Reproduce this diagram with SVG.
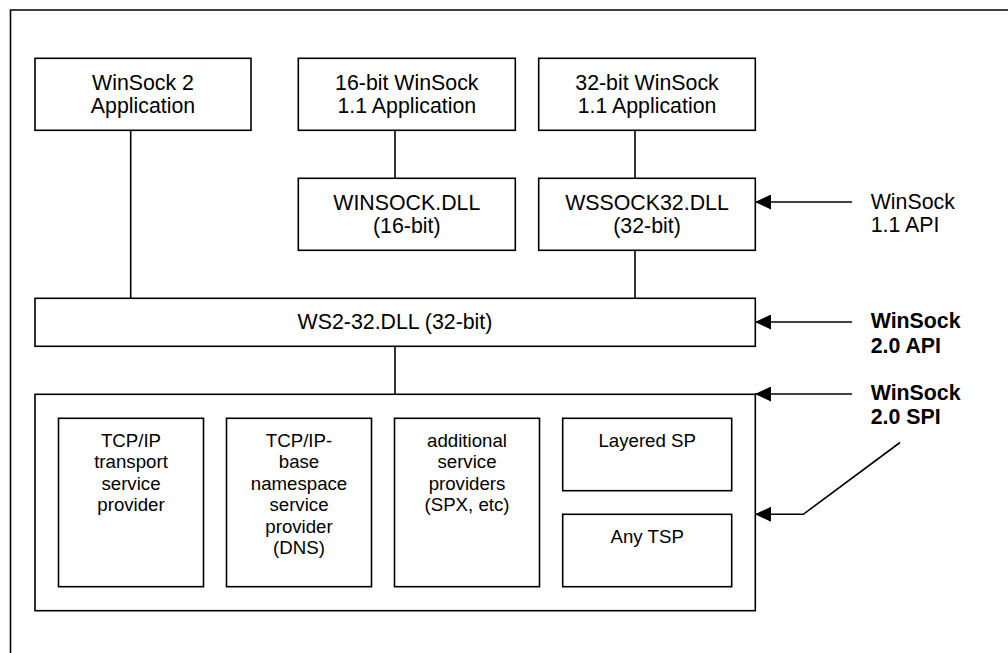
<svg xmlns="http://www.w3.org/2000/svg" width="1008" height="653" viewBox="0 0 1008 653">
  <style>
    .box { fill: #ffffff; stroke: #000000; stroke-width: 1.6; }
    .ln { fill: none; stroke: #000000; stroke-width: 1.6; }
    .t { font-family: "Liberation Sans", Arial, sans-serif; font-size: 21.33px; fill: #000000; text-anchor: middle; }
    .s { font-family: "Liberation Sans", Arial, sans-serif; font-size: 18.67px; fill: #000000; text-anchor: middle; }
    .lbl { font-family: "Liberation Sans", Arial, sans-serif; font-size: 21.33px; fill: #000000; }
    .b { font-weight: bold; }
  </style>
  <defs>
    <marker id="ah" markerUnits="userSpaceOnUse" markerWidth="16" markerHeight="15" viewBox="0 0 16 15" refX="16" refY="7.5" orient="auto">
      <path d="M0,0 L16,7.5 L0,15 z" fill="#000000"/>
    </marker>
  </defs>
  <rect x="0" y="0" width="1008" height="653" fill="#ffffff"/>
  <path class="ln" d="M10.5,653 V10 H1008"/>

  <g id="connectors">
    <line class="ln" x1="130.7" y1="130" x2="130.7" y2="298"/>
    <line class="ln" x1="395" y1="130" x2="395" y2="178"/>
    <line class="ln" x1="635" y1="130" x2="635" y2="178"/>
    <line class="ln" x1="635" y1="250" x2="635" y2="298"/>
    <line class="ln" x1="395" y1="346" x2="395" y2="394"/>
    <line class="ln" x1="852" y1="202" x2="755" y2="202" marker-end="url(#ah)"/>
    <line class="ln" x1="852" y1="322" x2="755" y2="322" marker-end="url(#ah)"/>
    <line class="ln" x1="852" y1="394" x2="755" y2="394" marker-end="url(#ah)"/>
    <polyline class="ln" points="900,442.5 803.3,514.3 755,514.3" marker-end="url(#ah)"/>
  </g>

  <g id="ws2app">
    <rect class="box" x="35" y="58.3" width="216" height="72"/>
    <text class="t" x="143" y="89.5">WinSock 2</text>
    <text class="t" x="143" y="112.5">Application</text>
  </g>
  <g id="app16">
    <rect class="box" x="298.3" y="58.3" width="217" height="72"/>
    <text class="t" x="406.8" y="89.5">16-bit WinSock</text>
    <text class="t" x="406.8" y="112.5">1.1 Application</text>
  </g>
  <g id="app32">
    <rect class="box" x="538.7" y="58.3" width="216.6" height="72"/>
    <text class="t" x="647" y="89.5">32-bit WinSock</text>
    <text class="t" x="647" y="112.5">1.1 Application</text>
  </g>
  <g id="winsockdll">
    <rect class="box" x="298.3" y="178.3" width="217" height="72"/>
    <text class="t" x="406.8" y="209.5">WINSOCK.DLL</text>
    <text class="t" x="406.8" y="232.7">(16-bit)</text>
  </g>
  <g id="wsock32dll">
    <rect class="box" x="538.7" y="178.3" width="216.6" height="72"/>
    <text class="t" x="647" y="209.5">WSSOCK32.DLL</text>
    <text class="t" x="647" y="232.7">(32-bit)</text>
  </g>
  <g id="ws2dll">
    <rect class="box" x="35" y="298.3" width="720.3" height="48"/>
    <text class="t" x="395" y="328.5">WS2-32.DLL (32-bit)</text>
  </g>

  <g id="spcontainer">
    <rect class="box" x="35" y="394.3" width="720.3" height="216.4"/>
  </g>
  <g id="tcpip">
    <rect class="box" x="58.5" y="418.3" width="145" height="168.4"/>
    <text class="s" x="131" y="446.7">TCP/IP</text>
    <text class="s" x="131" y="468.2">transport</text>
    <text class="s" x="131" y="489.7">service</text>
    <text class="s" x="131" y="511.2">provider</text>
  </g>
  <g id="dns">
    <rect class="box" x="226.5" y="418.3" width="145" height="168.4"/>
    <text class="s" x="299" y="446.7">TCP/IP-</text>
    <text class="s" x="299" y="468.2">base</text>
    <text class="s" x="299" y="489.7">namespace</text>
    <text class="s" x="299" y="511.2">service</text>
    <text class="s" x="299" y="532.7">provider</text>
    <text class="s" x="299" y="554.2">(DNS)</text>
  </g>
  <g id="additional">
    <rect class="box" x="394.5" y="418.3" width="145" height="168.4"/>
    <text class="s" x="467" y="446.7">additional</text>
    <text class="s" x="467" y="468.2">service</text>
    <text class="s" x="467" y="489.7">providers</text>
    <text class="s" x="467" y="511.2">(SPX, etc)</text>
  </g>
  <g id="layered">
    <rect class="box" x="562.7" y="418.3" width="169" height="72.4"/>
    <text class="s" x="647.2" y="446.7">Layered SP</text>
  </g>
  <g id="anytsp">
    <rect class="box" x="562.7" y="514.3" width="169" height="72.4"/>
    <text class="s" x="647.2" y="542.7">Any TSP</text>
  </g>

  <g id="labels">
    <text class="lbl" x="870.7" y="208.5">WinSock</text>
    <text class="lbl" x="870.7" y="231.8">1.1 API</text>
    <text class="lbl b" x="870.7" y="328">WinSock</text>
    <text class="lbl b" x="870.7" y="352.5">2.0 API</text>
    <text class="lbl b" x="870.7" y="399.7">WinSock</text>
    <text class="lbl b" x="870.7" y="424.3">2.0 SPI</text>
  </g>
</svg>
